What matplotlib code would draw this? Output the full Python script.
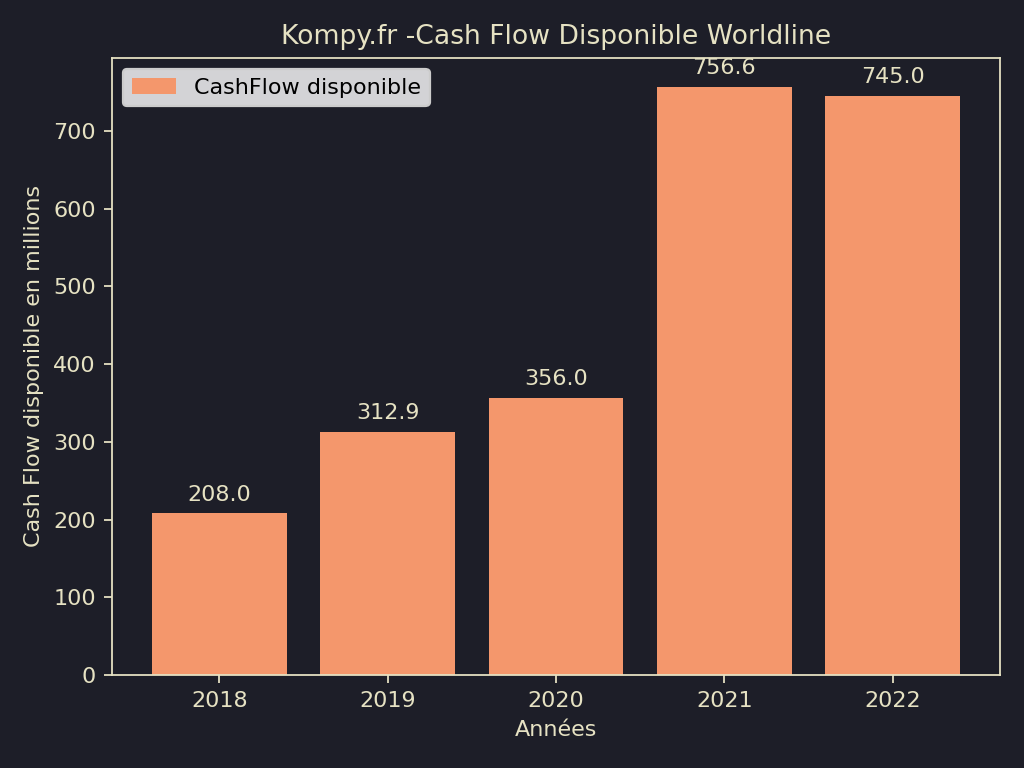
import matplotlib
matplotlib.use("Agg")
import matplotlib.pyplot as plt

years = ["2018", "2019", "2020", "2021", "2022"]
values = [208.0, 312.9, 356.0, 756.6, 745.0]

bg = "#1d1e28"
fg = "#e6e2c3"
bar_color = "#f4976c"

fig, ax = plt.subplots(figsize=(6.4, 4.8), dpi=160)
fig.patch.set_facecolor(bg)
ax.set_facecolor(bg)

bars = ax.bar(years, values, color=bar_color, label="CashFlow disponible")
for b, v in zip(bars, values):
    ax.annotate(f"{v:.1f}", (b.get_x() + b.get_width() / 2, v),
                xytext=(0, 4), textcoords="offset points",
                ha="center", va="bottom", color=fg, fontsize=10)

ax.set_title("Kompy.fr -Cash Flow Disponible Worldline", color=fg)
ax.set_xlabel("Années", color=fg)
ax.set_ylabel("Cash Flow disponible en millions", color=fg)
ax.tick_params(colors=fg)
for s in ax.spines.values():
    s.set_color(fg)

leg = ax.legend(loc="upper left", facecolor="#d3d3d6", framealpha=1.0)
for t in leg.get_texts():
    t.set_color("black")

fig.subplots_adjust(left=0.109, right=0.977, top=0.925, bottom=0.121)
fig.savefig("out.png", dpi=160, facecolor=bg)
